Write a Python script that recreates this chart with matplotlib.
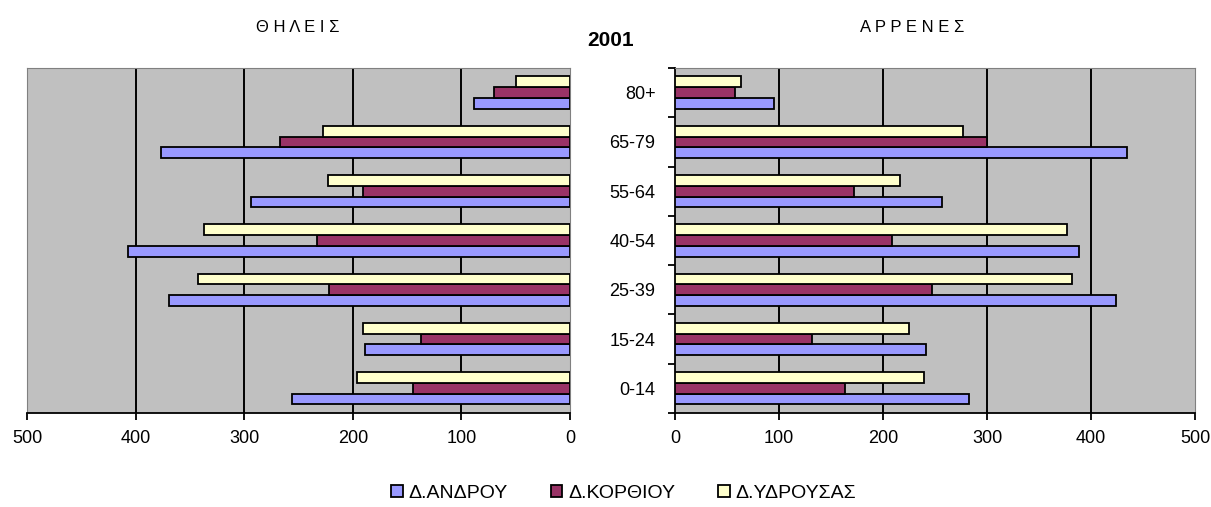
import matplotlib.pyplot as plt
import numpy as np

ages = ['0-14', '15-24', '25-39', '40-54', '55-64', '65-79', '80+']
series = ['Δ.ΑΝΔΡΟΥ', 'Δ.ΚΟΡΘΙΟΥ', 'Δ.ΥΔΡΟΥΣΑΣ']
colors = ['#9999FF', '#993366', '#FFFFCC']

# females (left panel)
f_andros = [256, 189, 369, 407, 294, 377, 88]
f_korthi = [145, 137, 222, 233, 191, 267, 70]
f_ydrousa = [196, 191, 343, 337, 223, 227, 50]

# males (right panel)
m_andros = [283, 241, 424, 388, 257, 435, 95]
m_korthi = [163, 132, 247, 209, 172, 300, 58]
m_ydrousa = [239, 225, 382, 377, 216, 277, 63]

plt.rcParams['font.family'] = ['Liberation Sans', 'DejaVu Sans']

fig = plt.figure(figsize=(12.11, 5.07), dpi=100)
axl = fig.add_axes([0.0223, 0.1854, 0.4484, 0.6806])
axr = fig.add_axes([0.5574, 0.1854, 0.4294, 0.6806])

y = np.arange(len(ages))
h = 0.218
offs = [-h, 0, h]


def draw(ax, data):
    ax.set_facecolor('#C0C0C0')
    for vals, c, o, lab in zip(data, colors, offs, series):
        ax.barh(y + o, vals, height=h, color=c, edgecolor='black', lw=1.3, label=lab, zorder=3)
    ax.set_xlim(0, 500)
    ax.set_ylim(-0.5, 6.5)
    ax.set_xticks(range(0, 501, 100))
    for x in range(100, 500, 100):
        ax.axvline(x, color='black', lw=1.4, zorder=1)
    for s in ['top', 'right', 'left']:
        ax.spines[s].set_color('#808080')
        ax.spines[s].set_linewidth(0.8)
    ax.spines['bottom'].set_color('black')
    ax.spines['bottom'].set_linewidth(1.3)
    ax.tick_params(axis='x', direction='out', length=5, width=1.3, labelsize=13, pad=7)


draw(axl, [f_andros, f_korthi, f_ydrousa])
axl.invert_xaxis()
axl.set_yticks([])
axl.tick_params(axis='y', length=0)

draw(axr, [m_andros, m_korthi, m_ydrousa])
axr.spines['left'].set_color('black')
axr.spines['left'].set_linewidth(1.3)
axr.set_yticks(y)
axr.set_yticklabels(ages, fontsize=13)
axr.set_yticks(np.arange(-0.5, 7, 1), minor=True)
axr.tick_params(axis='y', which='major', length=0, pad=14)
axr.tick_params(axis='y', which='minor', length=5, width=1.3)

fig.text(0.246, 0.945, 'Θ Η Λ Ε Ι Σ', ha='center', va='center', fontsize=12)
fig.text(0.504, 0.92, '2001', ha='center', va='center', fontsize=15, fontweight='bold')
fig.text(0.753, 0.945, 'Α Ρ Ρ Ε Ν Ε Σ', ha='center', va='center', fontsize=12)

handles, labels = axr.get_legend_handles_labels()
fig.legend(handles, labels, loc='center', bbox_to_anchor=(0.515, 0.027), ncol=3,
           frameon=False, fontsize=14, handlelength=0.6, handleheight=0.6,
           handletextpad=0.3, columnspacing=2.2)

fig.savefig('out.png', dpi=100)
